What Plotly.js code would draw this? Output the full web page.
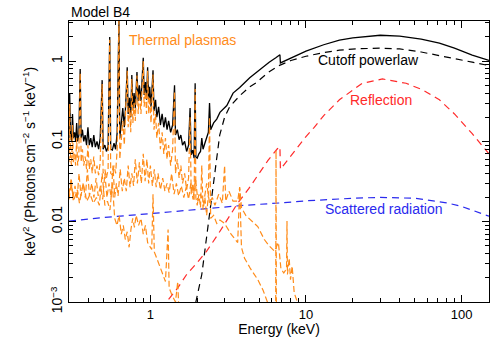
<!DOCTYPE html>
<html>
<head>
<meta charset="utf-8">
<script src="https://cdn.plot.ly/plotly-3.0.1.min.js"></script>
<style>
  html, body { margin: 0; padding: 0; background: #fff; }
  #chart { width: 491px; height: 337px; }
</style>
</head>
<body>
<div id="chart"></div>
<script>
// total model (black solid)
const totalE = [
  0.300, 0.303, 0.307, 0.312, 0.316, 0.320, 0.326, 0.331, 0.336, 0.341,
  0.347, 0.354, 0.359, 0.366, 0.373, 0.381, 0.389, 0.397, 0.405, 0.414,
  0.423, 0.433, 0.443, 0.454, 0.465, 0.476, 0.490, 0.497, 0.510, 0.522,
  0.535, 0.548, 0.556, 0.570, 0.584, 0.598, 0.612, 0.628, 0.636, 0.650,
  0.665, 0.680, 0.695, 0.710, 0.720, 0.735, 0.748, 0.760, 0.772, 0.786,
  0.800, 0.820, 0.835, 0.850, 0.870, 0.885, 0.900, 0.912, 0.930, 0.945,
  0.960, 0.975, 0.990, 1.010, 1.040, 1.055, 1.080, 1.100, 1.130, 1.160,
  1.190, 1.220, 1.250, 1.280, 1.310, 1.350, 1.390, 1.430, 1.450, 1.490,
  1.530, 1.570, 1.610, 1.660, 1.710, 1.760, 1.800, 1.830, 1.870, 1.910,
  1.940, 1.960, 2.000, 2.050, 2.100, 2.140, 2.180, 2.240, 2.300, 2.360,
  2.400, 2.440, 2.550, 2.670, 2.800, 3.100, 3.400, 3.750, 4.350, 5.000,
  5.800, 6.400, 6.800, 6.850, 8.000, 10.00, 13.00, 16.40, 20.00, 30.00,
  40.00, 55.00, 72.00, 90.00, 117.0, 150.0
];
const totalF = [
  0.11, 0.40, 0.12, 0.10, 0.22, 0.11, 0.13, 0.10, 0.17, 0.10,
  0.12, 0.80, 0.11, 0.14, 0.10, 0.12, 0.09, 0.15, 0.09, 0.11,
  0.085, 0.12, 0.085, 0.10, 0.08, 0.11, 0.58, 0.08, 0.09, 0.075,
  0.085, 2.0, 0.08, 0.078, 0.095, 0.08, 0.13, 3.3, 0.11, 0.16,
  0.26, 0.15, 0.30, 0.84, 0.22, 0.35, 0.20, 0.67, 0.25, 0.40,
  0.26, 0.73, 0.32, 0.50, 0.32, 0.60, 1.10, 0.38, 0.55, 0.33,
  0.84, 0.32, 0.48, 0.27, 0.77, 0.24, 0.33, 0.20, 0.27, 0.16,
  0.22, 0.15, 0.20, 0.14, 0.18, 0.13, 0.16, 0.50, 0.12, 0.14,
  0.105, 0.12, 0.09, 0.10, 0.075, 0.09, 0.26, 0.068, 0.078, 0.062,
  0.53, 0.064, 0.062, 0.07, 0.075, 0.11, 0.08, 0.095, 0.11, 0.13,
  0.30, 0.14, 0.17, 0.19, 0.23, 0.28, 0.40, 0.47, 0.62, 0.78,
  0.97, 1.10, 1.20, 0.95, 1.10, 1.33, 1.60, 1.83, 1.95, 2.10,
  2.05, 1.88, 1.68, 1.45, 1.19, 1.02
];

// cutoff powerlaw (black dashed)
const powerE = [1.90, 1.96, 2.14, 2.34, 2.51, 2.70, 2.79, 3.00, 3.23, 3.75,
  4.35, 4.80, 5.70, 6.70, 8.00, 10.0, 13.0, 16.4, 22.0, 30.0,
  40.0, 55.0, 72.0, 91.0, 117, 150];
const powerF = [0.0007, 0.001, 0.0022, 0.0084, 0.024, 0.077, 0.12, 0.20, 0.27, 0.37,
  0.48, 0.54, 0.72, 0.88, 1.02, 1.15, 1.28, 1.37, 1.43, 1.45,
  1.42, 1.30, 1.18, 1.07, 0.97, 0.88];

// reflection (red dashed)
const reflE = [1.20, 1.27, 1.50, 1.71, 2.00, 2.30, 2.70, 3.10, 3.64, 4.30,
  4.90, 5.70, 6.55, 6.80, 6.85, 8.00, 10.0, 11.3, 13.0, 16.4,
  23.0, 31.0, 44.0, 56.0, 72.0, 90.0, 117, 150];
const reflF = [0.0008, 0.001, 0.0015, 0.0022, 0.0031, 0.0043, 0.0068, 0.0105, 0.017, 0.026,
  0.038, 0.058, 0.081, 0.086, 0.045, 0.066, 0.115, 0.15, 0.21, 0.33,
  0.53, 0.60, 0.53, 0.44, 0.33, 0.22, 0.125, 0.07];

// scattered radiation (blue dashed)
const scatE = [0.3, 0.5, 1, 2, 4, 7, 10, 20, 30, 50, 80, 100, 150];
const scatF = [0.0102, 0.0113, 0.0126, 0.0142, 0.016, 0.0172, 0.0182, 0.0196, 0.0201, 0.0196, 0.0172, 0.0155, 0.0117];

// thermal plasma 1 (main, orange)
const therm1E = [
  0.300, 0.303, 0.307, 0.312, 0.316, 0.320, 0.326, 0.331, 0.336, 0.341,
  0.347, 0.354, 0.359, 0.366, 0.373, 0.381, 0.389, 0.397, 0.405, 0.414,
  0.423, 0.433, 0.443, 0.454, 0.465, 0.476, 0.490, 0.497, 0.510, 0.522,
  0.535, 0.548, 0.556, 0.570, 0.584, 0.598, 0.612, 0.628, 0.636, 0.650,
  0.665, 0.680, 0.695, 0.710, 0.720, 0.735, 0.748, 0.760, 0.772, 0.786,
  0.800, 0.820, 0.835, 0.850, 0.870, 0.885, 0.900, 0.912, 0.930, 0.945,
  0.960, 0.975, 0.990, 1.010, 1.040, 1.055, 1.080, 1.100, 1.130, 1.160,
  1.190, 1.220, 1.250, 1.280, 1.310, 1.350, 1.390, 1.430, 1.450, 1.490,
  1.530, 1.570, 1.610, 1.660, 1.710, 1.760, 1.800, 1.830, 1.870, 1.910,
  1.940, 1.960, 2.000, 2.050, 2.100, 2.140, 2.180, 2.240, 2.300, 2.360,
  2.400, 2.440, 2.550, 2.670, 2.800, 3.000, 3.300, 3.640, 3.750, 3.850,
  4.030, 4.400, 4.900, 5.300, 5.670, 5.900, 6.380, 6.420, 6.460, 6.600
];
const therm1F = [
  0.055, 0.30, 0.06, 0.05, 0.16, 0.055, 0.07, 0.05, 0.11, 0.05,
  0.065, 0.72, 0.055, 0.08, 0.05, 0.065, 0.045, 0.09, 0.045, 0.06,
  0.04, 0.065, 0.04, 0.05, 0.038, 0.055, 0.52, 0.04, 0.045, 0.035,
  0.045, 1.85, 0.04, 0.038, 0.05, 0.04, 0.08, 3.2, 0.06, 0.10,
  0.18, 0.09, 0.22, 0.76, 0.15, 0.26, 0.13, 0.60, 0.17, 0.30,
  0.18, 0.66, 0.22, 0.40, 0.22, 0.48, 1.00, 0.27, 0.42, 0.22,
  0.76, 0.22, 0.36, 0.17, 0.68, 0.14, 0.22, 0.11, 0.17, 0.08,
  0.13, 0.07, 0.11, 0.06, 0.09, 0.05, 0.08, 0.42, 0.04, 0.06,
  0.035, 0.05, 0.03, 0.04, 0.025, 0.035, 0.20, 0.022, 0.03, 0.018,
  0.45, 0.02, 0.016, 0.022, 0.015, 0.05, 0.014, 0.02, 0.012, 0.022,
  0.20, 0.011, 0.012, 0.0095, 0.0105, 0.0095, 0.007, 0.0055, 0.026, 0.0048,
  0.0035, 0.0026, 0.0019, 0.0014, 0.001, 0.0008, 0.0004, 0.077, 0.0004, 0.0003
];

// thermal plasma 2 (cool, orange)
const therm2E = [
  0.30, 0.31, 0.32, 0.34, 0.35, 0.37, 0.39, 0.41, 0.43, 0.45,
  0.47, 0.49, 0.51, 0.53, 0.55, 0.57, 0.59, 0.61, 0.63, 0.65,
  0.67, 0.69, 0.71, 0.73, 0.75, 0.77, 0.79, 0.81, 0.84, 0.87,
  0.90, 0.93, 0.96, 1.02, 1.04, 1.06, 1.10, 1.15, 1.20, 1.25,
  1.30, 1.32, 1.38, 1.45, 1.50, 1.52, 1.60
];
const therm2F = [
  0.019, 0.030, 0.018, 0.025, 0.017, 0.030, 0.018, 0.022, 0.017, 0.020,
  0.016, 0.040, 0.016, 0.018, 0.014, 0.030, 0.011, 0.009, 0.012, 0.007,
  0.009, 0.006, 0.0075, 0.0048, 0.008, 0.011, 0.0085, 0.012, 0.009, 0.011,
  0.007, 0.009, 0.0055, 0.0045, 0.022, 0.0042, 0.0035, 0.0028, 0.0022, 0.0018,
  0.008, 0.0015, 0.0012, 0.001, 0.0018, 0.0009, 0.0007
];

// thermal plasma 3 (hot, orange)
const therm3E = [
  0.300, 0.310, 0.318, 0.328, 0.338, 0.348, 0.358, 0.370, 0.382, 0.394,
  0.406, 0.420, 0.434, 0.448, 0.462, 0.478, 0.494, 0.510, 0.526, 0.542,
  0.560, 0.575, 0.590, 0.605, 0.620, 0.640, 0.660, 0.680, 0.700, 0.720,
  0.740, 0.760, 0.780, 0.800, 0.825, 0.850, 0.875, 0.900, 0.925, 0.950,
  0.975, 1.000, 1.030, 1.060, 1.090, 1.120, 1.160, 1.200, 1.240, 1.280,
  1.320, 1.370, 1.420, 1.470, 1.520, 1.580, 1.640, 1.700, 1.760, 1.820,
  1.880, 1.950, 2.020, 2.100, 2.200, 2.300, 2.400, 2.500, 2.600, 2.750,
  2.900, 3.000, 3.050, 3.200, 3.400, 3.640, 3.750, 3.850, 4.100, 4.400,
  4.900, 5.400, 5.800, 6.270, 6.650, 6.900, 7.200, 7.500, 7.550, 7.600,
  7.800, 7.950, 8.150, 8.400, 8.800, 9.000
];
const therm3F = [
  0.022, 0.035, 0.020, 0.028, 0.019, 0.040, 0.021, 0.030, 0.020, 0.045,
  0.021, 0.030, 0.020, 0.035, 0.021, 0.028, 0.019, 0.040, 0.020, 0.030,
  0.020, 0.050, 0.020, 0.030, 0.021, 0.045, 0.024, 0.035, 0.024, 0.050,
  0.027, 0.040, 0.028, 0.060, 0.030, 0.055, 0.030, 0.070, 0.032, 0.060,
  0.030, 0.050, 0.028, 0.045, 0.027, 0.040, 0.025, 0.035, 0.024, 0.030,
  0.023, 0.040, 0.022, 0.030, 0.021, 0.028, 0.020, 0.027, 0.019, 0.030,
  0.019, 0.035, 0.018, 0.022, 0.017, 0.030, 0.017, 0.020, 0.016, 0.022,
  0.017, 0.050, 0.018, 0.024, 0.018, 0.018, 0.027, 0.015, 0.012, 0.0105,
  0.0087, 0.006, 0.005, 0.0043, 0.0055, 0.0026, 0.0023, 0.0026, 0.0102, 0.0022,
  0.0035, 0.0019, 0.0028, 0.0013, 0.001, 0.0008
];

const xMinor = [0.4, 0.5, 0.6, 0.7, 0.8, 0.9, 2, 3, 4, 5, 6, 7, 8, 9,
  20, 30, 40, 50, 60, 70, 80, 90];
const yMinor = [0.002, 0.003, 0.004, 0.005, 0.006, 0.007, 0.008, 0.009,
  0.02, 0.03, 0.04, 0.05, 0.06, 0.07, 0.08, 0.09,
  0.2, 0.3, 0.4, 0.5, 0.6, 0.7, 0.8, 0.9, 2, 3];

const orange = '#ff8c1a';

const traces = [
  { x: totalE, y: totalF, mode: 'lines', line: { color: 'black', width: 1.3 } },
  { x: powerE, y: powerF, mode: 'lines', line: { color: 'black', width: 1.2, dash: '7px,5px' } },
  { x: reflE, y: reflF, mode: 'lines', line: { color: '#ff2a2a', width: 1.2, dash: '7px,5px' } },
  { x: scatE, y: scatF, mode: 'lines', line: { color: '#2a2aee', width: 1.2, dash: '7px,5px' } },
  { x: therm3E, y: therm3F, mode: 'lines', line: { color: orange, width: 1.2, dash: '6px,3px' } },
  { x: therm2E, y: therm2F, mode: 'lines', line: { color: orange, width: 1.2, dash: '6px,3px' } },
  { x: therm1E, y: therm1F, mode: 'lines', line: { color: orange, width: 1.2, dash: '6px,3px' } },
];

const fontFam = '"Liberation Sans", Arial, Helvetica, sans-serif';

const layout = {
  width: 491,
  height: 337,
  showlegend: false,
  margin: { l: 69, r: 2, t: 21, b: 35 },
  paper_bgcolor: 'white',
  plot_bgcolor: 'white',
  font: { family: fontFam, size: 14, color: 'black' },
  xaxis: {
    type: 'log',
    range: [Math.log10(0.3), Math.log10(150)],
    tickmode: 'array',
    tickvals: [1, 10, 100],
    ticktext: ['1', '10', '100'],
    tickfont: { size: 13 },
    ticks: 'inside',
    ticklen: 7,
    tickcolor: 'black',
    showline: true,
    linecolor: 'black',
    linewidth: 1,
    mirror: 'ticks',
    showgrid: false,
    zeroline: false,
    minor: { tickmode: 'array', tickvals: xMinor, ticks: 'inside', ticklen: 4, tickcolor: 'black', showgrid: false },
    title: { text: 'Energy (keV)', font: { size: 14 }, standoff: 9 },
  },
  yaxis: {
    type: 'log',
    range: [-3, 0.5],
    tickmode: 'array',
    tickvals: [0.001, 0.01, 0.1, 1],
    ticktext: ['10<sup>−3</sup>', '0.01', '0.1', '1'],
    tickangle: -90,
    ticks: 'inside',
    ticklen: 7,
    tickcolor: 'black',
    showline: true,
    linecolor: 'black',
    linewidth: 1,
    mirror: 'ticks',
    showgrid: false,
    zeroline: false,
    minor: { tickmode: 'array', tickvals: yMinor, ticks: 'inside', ticklen: 4, tickcolor: 'black', showgrid: false },
    title: { text: 'keV<sup>2</sup> (Photons cm<sup>−2</sup> s<sup>−1</sup> keV<sup>−1</sup>)', font: { size: 14 }, standoff: 8 },
  },
  annotations: [
    { text: 'Model B4', xref: 'paper', yref: 'paper', x: 0, y: 1.032, xanchor: 'left', yanchor: 'middle', showarrow: false, font: { size: 14, color: 'black' } },
    { text: 'Thermal plasmas', xref: 'paper', yref: 'paper', x: 0.138, y: 0.932, xanchor: 'left', yanchor: 'middle', showarrow: false, font: { size: 14, color: orange } },
    { text: 'Cutoff powerlaw', xref: 'paper', yref: 'paper', x: 0.712, y: 0.861, xanchor: 'center', yanchor: 'middle', showarrow: false, font: { size: 14, color: 'black' } },
    { text: 'Reflection', xref: 'paper', yref: 'paper', x: 0.743, y: 0.719, xanchor: 'center', yanchor: 'middle', showarrow: false, font: { size: 14, color: '#ff2a2a' } },
    { text: 'Scattered radiation', xref: 'paper', yref: 'paper', x: 0.75, y: 0.331, xanchor: 'center', yanchor: 'middle', showarrow: false, font: { size: 14, color: '#2a2aee' } },
  ],
};

Plotly.newPlot('chart', traces, layout, { staticPlot: true, displayModeBar: false });
</script>
</body>
</html>
